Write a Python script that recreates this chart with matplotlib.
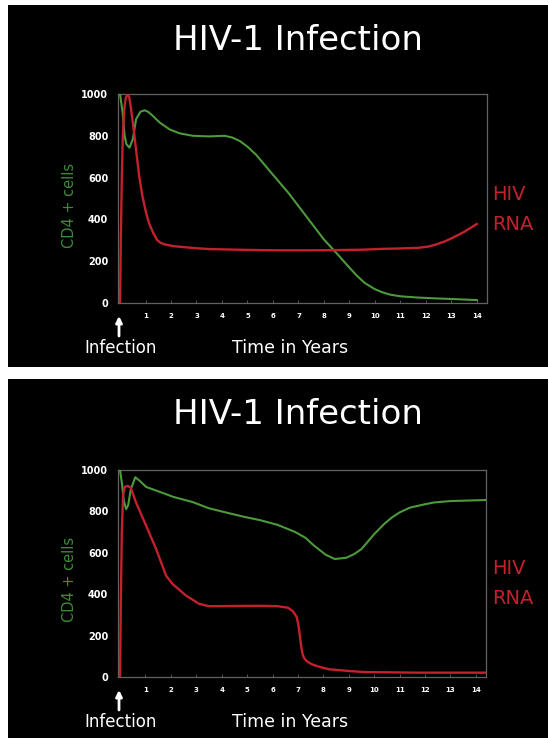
import numpy as np
import matplotlib
matplotlib.use('Agg')
import matplotlib.pyplot as plt
from matplotlib.patches import Rectangle

# ---- data (time in years, counts) ----
# top panel: typical untreated course
cd4_top_t = [0, 0.1, 0.18, 0.25, 0.37, 0.5, 0.63, 0.8, 0.96, 1.1, 1.28, 1.55, 1.94, 2.33,
             2.86, 3.5, 4.1, 4.4, 4.7, 5.0, 5.35, 5.9, 6.6, 7.3, 8.0, 8.5, 8.95, 9.3,
             9.6, 10.0, 10.3, 10.6, 11.0, 11.7, 12.4, 13.05, 14.0]
cd4_top_v = [1000, 912, 800, 760, 743, 783, 880, 915, 922, 915, 896, 864, 831, 812,
             800, 797, 800, 792, 775, 748, 708, 628, 528, 416, 304, 238, 176, 130,
             96, 66, 51, 40, 32, 26, 22, 19, 14]

rna_top_t = [0, 0.03, 0.07, 0.11, 0.16, 0.22, 0.3, 0.36, 0.43, 0.55, 0.65, 0.75, 0.88,
             1.02, 1.15, 1.3, 1.45, 1.6, 1.8, 2.1, 2.8, 3.5, 5.0, 6.2, 7.5, 8.4, 9.5,
             10.3, 11.0, 11.7, 12.1, 12.4, 12.75, 13.05, 13.5, 14.0]
rna_top_v = [0, 300, 600, 800, 920, 980, 1000, 985, 930, 816, 710, 608, 510,
             432, 378, 336, 302, 287, 279, 272, 264, 258, 254, 252, 252, 253, 255,
             259, 261, 264, 270, 280, 295, 312, 340, 378]

# bottom panel: course with treatment
cd4_bot_t = [0, 0.08, 0.15, 0.24, 0.32, 0.42, 0.6, 0.8, 1.03, 1.55, 2.1, 2.86, 3.5,
             4.16, 4.84, 5.5, 6.2, 6.9, 7.3, 7.6, 8.1, 8.45, 8.9, 9.2, 9.5, 10.0,
             10.4, 10.7, 11.0, 11.4, 11.9, 12.35, 13.0, 14.4]
cd4_bot_v = [1000, 930, 850, 811, 830, 905, 965, 945, 918, 895, 870, 845, 815,
             795, 775, 758, 735, 700, 672, 638, 590, 570, 576, 593, 618, 690,
             740, 771, 795, 818, 832, 843, 850, 855]

rna_bot_t = [0, 0.03, 0.07, 0.12, 0.18, 0.3, 0.42, 0.63, 1.03, 1.42, 1.81, 2.07, 2.6,
             3.12, 3.5, 4.5, 5.5, 6.2, 6.6, 6.8, 6.95, 7.02, 7.08, 7.13, 7.18, 7.24,
             7.33, 7.45, 7.6, 7.9, 8.25, 9.0, 9.6, 11.7, 14.4]
rna_bot_v = [0, 350, 700, 880, 918, 923, 915, 843, 730, 618, 490, 449, 393,
             353, 342, 343, 344, 342, 335, 318, 290, 250, 195, 145, 112, 92,
             78, 68, 59, 47, 37, 29, 24, 21, 21]

year_ticks = list(range(1, 15))
cd4_ticks = [0, 200, 400, 600, 800, 1000]

title_text = 'HIV-1 Infection'
ylab_text = 'CD4 + cells'

# ---- styling ----
W, H = 548, 738
green = '#4c9a3c'
green_txt = '#3f8a3a'
red = '#c4202e'
grey = '#626262'

plt.rcParams['font.family'] = ['DejaVu Sans']

fig = plt.figure(figsize=(W / 100, H / 100), dpi=100, facecolor='white')


def fx(x):
    return x / W


def fy(y):
    return 1 - y / H


def draw_panel(dy, right_px, bottom_px, top_px, cd4_t, cd4_v, rna_t, rna_v):
    # black slide background
    fig.patches.append(Rectangle((fx(8), fy(dy + 362)), fx(540), 362 / H,
                                 transform=fig.transFigure, facecolor='black',
                                 edgecolor='none', zorder=-5))
    ax = fig.add_axes([fx(118), fy(bottom_px), fx(right_px - 118),
                       (bottom_px - top_px) / H])
    ax.set_zorder(3)
    ax.set_facecolor('black')
    ax.plot(cd4_t, cd4_v, color=green, lw=1.5, solid_joinstyle='round', zorder=3)
    ax.plot(rna_t, rna_v, color=red, lw=1.7, solid_joinstyle='round', zorder=4)
    ax.set_xlim(-0.08, 14.4)
    ax.set_ylim(0, 1000)
    ax.set_xticks(year_ticks)
    ax.set_xticklabels([str(v) for v in year_ticks])
    ax.set_yticks(cd4_ticks)
    ax.set_yticklabels([str(v) for v in cd4_ticks])
    ax.tick_params(axis='x', direction='in', length=2.5, width=0.6, color=grey,
                   labelcolor='white', labelsize=5, pad=7)
    ax.tick_params(axis='y', length=0, labelcolor='white', labelsize=7, pad=7)
    for lab in ax.get_xticklabels() + ax.get_yticklabels():
        lab.set_fontweight('bold')
    for sp in ax.spines.values():
        sp.set_color(grey)
        sp.set_linewidth(0.9)
        sp.set_zorder(2)

    fig.text(fx(298), fy(dy + 36), title_text, color='white', fontsize=24.5,
             ha='center', va='center')
    fig.text(fx(69), fy(dy + 200), ylab_text, color=green_txt, fontsize=10.5,
             rotation=90, ha='center', va='center')
    fig.text(fx(492), fy(dy + 190), 'HIV', color=red, fontsize=14,
             ha='left', va='center')
    fig.text(fx(492), fy(dy + 220), 'RNA', color=red, fontsize=14,
             ha='left', va='center')
    fig.text(fx(121), fy(dy + 343), 'Infection', color='white', fontsize=12,
             ha='center', va='center')
    fig.text(fx(290), fy(dy + 343), 'Time in Years', color='white', fontsize=12.5,
             ha='center', va='center')
    ax.annotate('', xy=(fx(119), fy(dy + 311)), xytext=(fx(119), fy(dy + 331)),
                xycoords='figure fraction', textcoords='figure fraction',
                annotation_clip=False,
                arrowprops=dict(arrowstyle='-|>', color='white', lw=2,
                                mutation_scale=9, shrinkA=0, shrinkB=0))
    return ax


draw_panel(5, 487, 303, 94, cd4_top_t, cd4_top_v, rna_top_t, rna_top_v)
draw_panel(379, 486, 677, 470, cd4_bot_t, cd4_bot_v, rna_bot_t, rna_bot_v)

fig.savefig('out.png', dpi=100, facecolor='white')
